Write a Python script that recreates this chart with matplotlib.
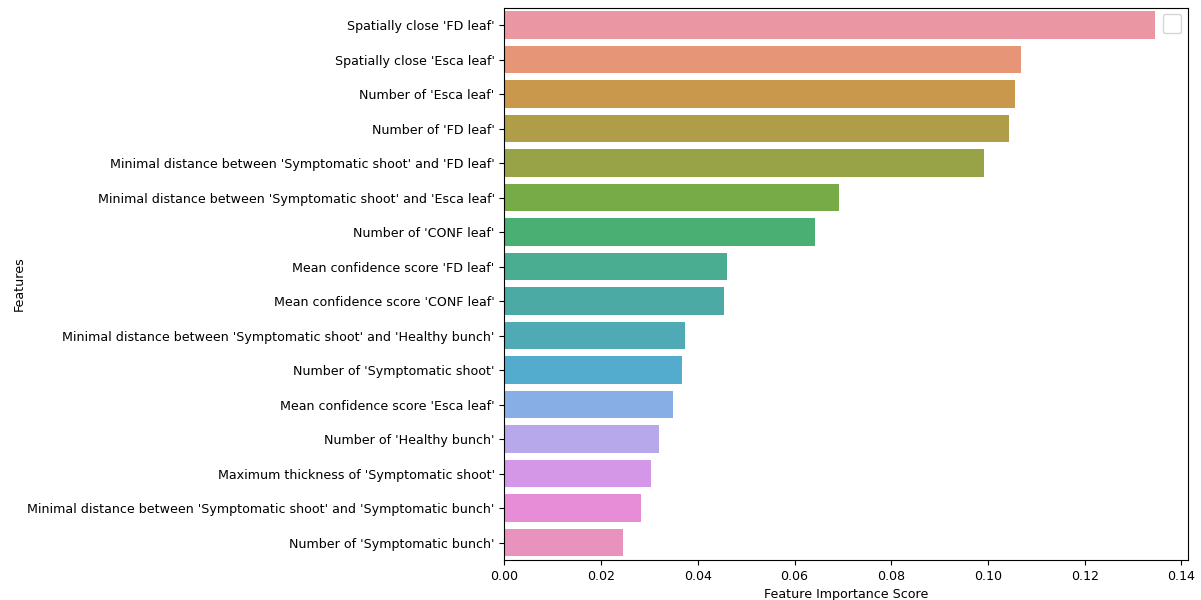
import matplotlib
matplotlib.use("Agg")
import matplotlib.pyplot as plt
import seaborn as sns
import pandas as pd

features = [
    "Spatially close 'FD leaf'",
    "Spatially close 'Esca leaf'",
    "Number of 'Esca leaf'",
    "Number of 'FD leaf'",
    "Minimal distance between 'Symptomatic shoot' and 'FD leaf'",
    "Minimal distance between 'Symptomatic shoot' and 'Esca leaf'",
    "Number of 'CONF leaf'",
    "Mean confidence score 'FD leaf'",
    "Mean confidence score 'CONF leaf'",
    "Minimal distance between 'Symptomatic shoot' and 'Healthy bunch'",
    "Number of 'Symptomatic shoot'",
    "Mean confidence score 'Esca leaf'",
    "Number of 'Healthy bunch'",
    "Maximum thickness of 'Symptomatic shoot'",
    "Minimal distance between 'Symptomatic shoot' and 'Symptomatic bunch'",
    "Number of 'Symptomatic bunch'",
]
importance = [0.1346, 0.1069, 0.1056, 0.1043, 0.0992, 0.0692, 0.0642,
              0.0460, 0.0454, 0.0373, 0.0367, 0.0348, 0.0320, 0.0303,
              0.0282, 0.0245]

plt.rcParams["font.size"] = 9.1

df = pd.DataFrame({"feature": features, "score": importance})
colors = [sns.desaturate(c, 0.75) for c in sns.husl_palette(len(features), l=0.7)]

fig, ax = plt.subplots(figsize=(12.01, 6.0), dpi=100)
sns.barplot(data=df, x="score", y="feature", hue="feature",
            palette=colors, saturation=1, legend=False, ax=ax)
ax.set_xlabel("Feature Importance Score")
ax.set_ylabel("Features", labelpad=1)
ax.legend(borderpad=0.75, loc="upper right")
fig.subplots_adjust(left=0.42, right=0.989, top=0.987, bottom=0.067)
fig.savefig("out.png", dpi=100)
